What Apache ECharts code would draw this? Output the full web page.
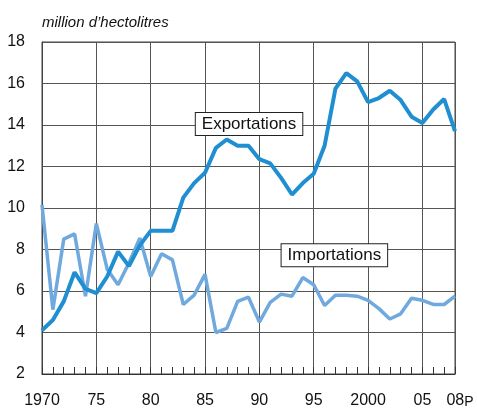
<!DOCTYPE html>
<html>
<head>
<meta charset="utf-8">
<script src="https://cdn.jsdelivr.net/npm/echarts@6/dist/echarts.min.js"></script>
<style>
  html, body { margin: 0; padding: 0; background: #fff; }
  #chart { width: 477px; height: 409px; }
</style>
</head>
<body>
<div id="chart"></div>
<script>
// data (million hectolitres)
const years = [1970, 1971, 1972, 1973, 1974, 1975, 1976, 1977, 1978, 1979,
  1980, 1981, 1982, 1983, 1984, 1985, 1986, 1987, 1988, 1989,
  1990, 1991, 1992, 1993, 1994, 1995, 1996, 1997, 1998, 1999,
  2000, 2001, 2002, 2003, 2004, 2005, 2006, 2007, 2008];

const exportations = [4.1, 4.6, 5.5, 6.9, 6.1, 5.9, 6.7, 7.9, 7.2, 8.2,
  8.9, 8.9, 8.9, 10.5, 11.2, 11.7, 12.9, 13.3, 13.0, 13.0,
  12.35, 12.15, 11.45, 10.65, 11.2, 11.65, 13.0, 15.75, 16.5, 16.1,
  15.1, 15.3, 15.65, 15.2, 14.4, 14.1, 14.75, 15.25, 13.7];

const importations = [10.15, 5.1, 8.5, 8.75, 5.75, 9.25, 7.05, 6.3, 7.35, 8.55,
  6.7, 7.8, 7.5, 5.35, 5.8, 6.8, 4.0, 4.2, 5.5, 5.7,
  4.5, 5.45, 5.85, 5.75, 6.65, 6.3, 5.3, 5.8, 5.8, 5.75,
  5.55, 5.15, 4.65, 4.9, 5.65, 5.55, 5.35, 5.35, 5.75];

const xLabels = { 1970: '1970', 1975: '75', 1980: '80', 1985: '85', 1990: '90',
  1995: '95', 2000: '2000', 2005: '05', 2008: '{a|08}{p|P}' };

const seriesNames = ['Exportations', 'Importations'];
const labelSpots = [[1989.05, 14.05], [1996.9, 7.72]];

const chart = echarts.init(document.getElementById('chart'));

const toPairs = vals => years.map((y, i) => [y, vals[i]]);

const boxLabel = {
  show: true,
  color: '#111',
  fontSize: 17,
  fontFamily: 'Liberation Sans',
  backgroundColor: '#fff',
  borderColor: '#222',
  borderWidth: 1,
  padding: [3, 6, 2, 6]
};

chart.setOption({
  animation: false,
  title: {
    text: 'million d\u2019hectolitres',
    left: 37,
    top: 10,
    textStyle: { fontSize: 15, fontStyle: 'italic', fontWeight: 'normal', color: '#111', fontFamily: 'Liberation Sans' }
  },
  grid: {
    left: 42, right: 22, top: 42, bottom: 35,
    show: true, borderColor: '#444', borderWidth: 1
  },
  xAxis: [
    {
      type: 'value', min: 1970, max: 2008, interval: 1,
      axisLine: { show: true, lineStyle: { color: '#333', width: 1 } },
      axisTick: { show: true, inside: true, length: 7, lineStyle: { color: '#333' } },
      splitLine: { show: false },
      axisLabel: {
        margin: 19,
        fontSize: 16,
        color: '#111',
        fontFamily: 'Liberation Sans',
        showMinLabel: true,
        showMaxLabel: true,
        formatter: v => xLabels[v] || '',
        rich: {
          a: { fontSize: 16, color: '#111', fontFamily: 'Liberation Sans', padding: [0, 0, 0, 10] },
          p: { fontSize: 14, color: '#111', fontFamily: 'Liberation Sans', verticalAlign: 'bottom' }
        }
      }
    },
    {
      type: 'value', min: 1970, max: 2008, interval: 5, position: 'bottom',
      axisLine: { show: false }, axisTick: { show: false }, axisLabel: { show: false },
      splitLine: { show: true, lineStyle: { color: '#555', width: 1 } }
    }
  ],
  yAxis: {
    type: 'value', min: 2, max: 18, interval: 2,
    axisLine: { show: true, lineStyle: { color: '#444' } },
    axisTick: { show: false },
    axisLabel: { fontSize: 16, color: '#111', fontFamily: 'Liberation Sans', margin: 17 },
    splitLine: { show: true, lineStyle: { color: '#555', width: 1 } }
  },
  series: [
    {
      name: seriesNames[1],
      type: 'line',
      data: toPairs(importations),
      showSymbol: false,
      lineStyle: { color: '#6fa9dd', width: 3.5 },
      itemStyle: { color: '#6fa9dd' },
      markPoint: {
        symbolSize: 0,
        label: Object.assign({ formatter: seriesNames[1] }, boxLabel),
        data: [{ coord: labelSpots[1] }]
      }
    },
    {
      name: seriesNames[0],
      type: 'line',
      data: toPairs(exportations),
      showSymbol: false,
      lineStyle: { color: '#1f8fd2', width: 4 },
      itemStyle: { color: '#1f8fd2' },
      markPoint: {
        symbolSize: 0,
        label: Object.assign({ formatter: seriesNames[0] }, boxLabel),
        data: [{ coord: labelSpots[0] }]
      }
    }
  ]
});
</script>
</body>
</html>
